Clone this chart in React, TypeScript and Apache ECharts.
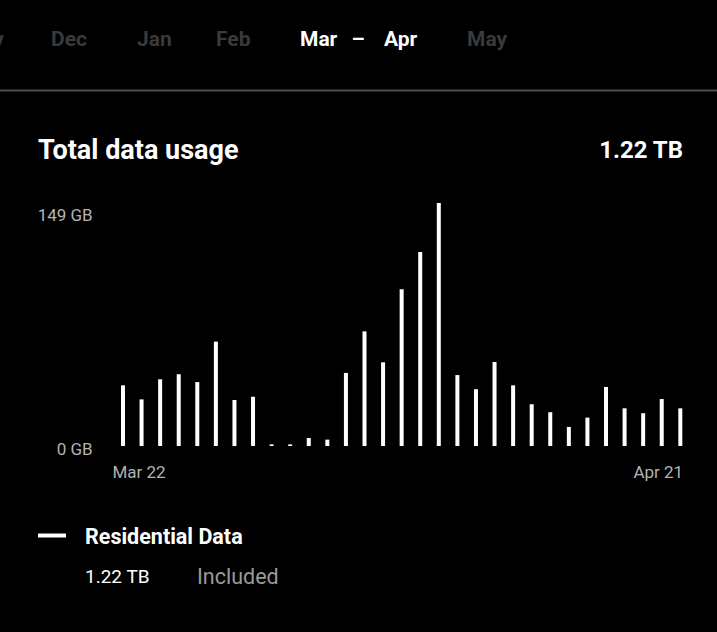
import React, { useEffect, useRef } from "react";
import * as echarts from "echarts";

const categories = [
  "Mar 22", "Mar 23", "Mar 24", "Mar 25", "Mar 26", "Mar 27", "Mar 28", "Mar 29", "Mar 30", "Mar 31",
  "Apr 1", "Apr 2", "Apr 3", "Apr 4", "Apr 5", "Apr 6", "Apr 7", "Apr 8", "Apr 9", "Apr 10",
  "Apr 11", "Apr 12", "Apr 13", "Apr 14", "Apr 15", "Apr 16", "Apr 17", "Apr 18", "Apr 19", "Apr 20", "Apr 21",
];
const usageGB = [
  37.2, 28.6, 40.9, 44.0, 39.2, 64.0, 28.2, 30.2, 1.0, 1.0,
  4.9, 3.9, 44.8, 70.3, 51.3, 96.1, 119.0, 149.0, 43.5, 34.8,
  51.5, 37.2, 25.6, 20.7, 11.7, 17.4, 36.2, 23.1, 20.1, 28.8, 23.1,
];
const yTicks = [0, 149];
const navMonths = ["Nov", "Dec", "Jan", "Feb", "Mar", "–", "Apr", "May"];
const navActive = [false, false, false, false, true, true, true, false];
const totalLabel = "1.22 TB";

const FONT = "Roboto, 'DejaVu Sans', sans-serif";

export default function App() {
  const ref = useRef<HTMLDivElement>(null);
  useEffect(() => {
    document.body.style.margin = "0";
    document.body.style.background = "#000";
    const chart = echarts.init(ref.current!, undefined, { renderer: "svg" });
    const navX = [4, 51, 137, 216, 300, 358, 384, 467];
    const navAlign = ["right", "left", "left", "left", "left", "center", "left", "left"];
    const navTexts = navMonths.map((m, i) => ({
      type: "text",
      x: navX[i],
      y: 39,
      style: {
        text: m,
        fill: navActive[i] ? "#ffffff" : "#3a3a3a",
        font: `bold 21px ${FONT}`,
        textAlign: navAlign[i],
        textVerticalAlign: "middle",
      },
    }));
    chart.setOption({
      animation: false,
      backgroundColor: "#000000",
      textStyle: { fontFamily: FONT },
      graphic: [
        ...navTexts,
        {
          type: "rect",
          shape: { x: 0, y: 89.5, width: 717, height: 2 },
          style: { fill: "#4d4d4d" },
        },
        {
          type: "text",
          x: 38,
          y: 150,
          style: {
            text: "Total data usage",
            fill: "#ffffff",
            font: `bold 27px ${FONT}`,
            textVerticalAlign: "middle",
          },
        },
        {
          type: "text",
          x: 683,
          y: 150,
          style: {
            text: totalLabel,
            fill: "#ffffff",
            font: `bold 24px ${FONT}`,
            textAlign: "right",
            textVerticalAlign: "middle",
          },
        },
        {
          type: "rect",
          shape: { x: 38, y: 533.5, width: 28, height: 4 },
          style: { fill: "#ffffff" },
        },
        {
          type: "text",
          x: 85,
          y: 536,
          style: {
            text: "Residential Data",
            fill: "#ffffff",
            font: `bold 21.5px ${FONT}`,
            textVerticalAlign: "middle",
          },
        },
        {
          type: "text",
          x: 85,
          y: 576,
          style: {
            text: totalLabel,
            fill: "#ffffff",
            font: `19px ${FONT}`,
            textVerticalAlign: "middle",
          },
        },
        {
          type: "text",
          x: 197,
          y: 576,
          style: {
            text: "Included",
            fill: "#9a9a9a",
            font: `21.5px ${FONT}`,
            textVerticalAlign: "middle",
          },
        },
      ],
      grid: { left: 113.7, right: 27.4, top: 203, bottom: 186 },
      xAxis: {
        type: "category",
        data: categories,
        boundaryGap: true,
        axisLine: { show: false },
        axisTick: { show: false },
        axisLabel: {
          interval: (i: number) => i === 0 || i === categories.length - 1,
          margin: 17,
          color: "#b3b3b3",
          fontSize: 17,
          fontFamily: FONT,
          formatter: (v: string, i: number) => (i === 0 ? `{l|${v}}` : `{r|${v}}`),
          rich: {
            l: { padding: [0, 0, 0, 32], fontSize: 17, color: "#b3b3b3", fontFamily: FONT },
            r: { padding: [0, 44, 0, 0], fontSize: 17, color: "#b3b3b3", fontFamily: FONT },
          },
        },
      },
      yAxis: {
        type: "value",
        min: yTicks[0],
        max: yTicks[1],
        interval: yTicks[1],
        splitLine: { show: false },
        axisLine: { show: false },
        axisTick: { show: false },
        axisLabel: {
          margin: 21,
          color: "#b3b3b3",
          fontSize: 17,
          fontFamily: FONT,
          formatter: (v: number) => (v === 0 ? `{b|${v} GB}` : `{a|${v} GB}`),
          rich: {
            a: { padding: [24, 0, 0, 0], fontSize: 17, color: "#b3b3b3", fontFamily: FONT },
            b: { padding: [6, 0, 0, 0], fontSize: 17, color: "#b3b3b3", fontFamily: FONT },
          },
        },
      },
      series: [
        {
          type: "bar",
          data: usageGB,
          barWidth: 4,
          itemStyle: { color: "#ffffff" },
        },
      ],
    });
    return () => chart.dispose();
  }, []);
  return (
    <div
      ref={ref}
      style={{ position: "absolute", left: 0, top: 0, width: 717, height: 632, background: "#000" }}
    />
  );
}
